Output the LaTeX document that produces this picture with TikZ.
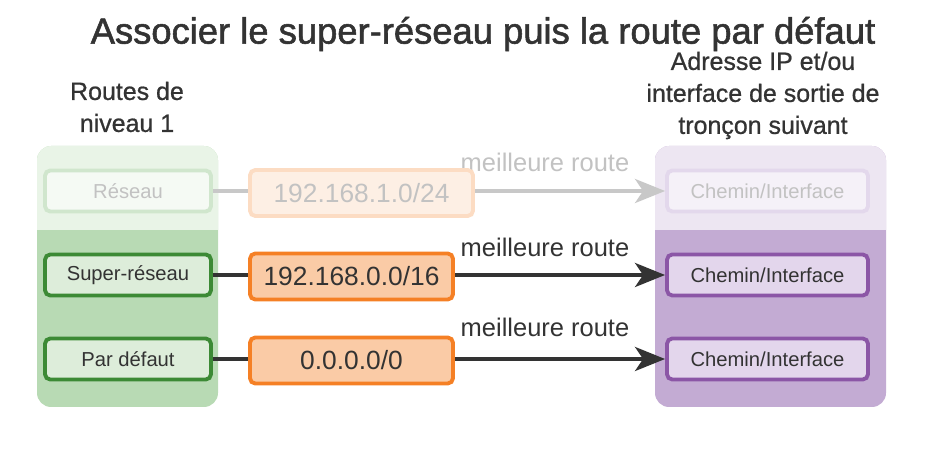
\documentclass[tikz,border=0pt]{standalone}
\usepackage{fontspec}
\setmainfont{Liberation Sans}
\newfontfamily\titlefont[FakeBold=1.5]{Liberation Sans}
\newfontfamily\headfont[FakeBold=0.8]{Liberation Sans}
\usetikzlibrary{arrows.meta}

\definecolor{txtdark}{HTML}{333333}
\definecolor{txtfade}{HTML}{C2C2C2}
\definecolor{grnline}{HTML}{3C8A35}
\definecolor{grnfill}{HTML}{DDEDDA}
\definecolor{grnpanel}{HTML}{B8DAB4}
\definecolor{grnpaneltop}{HTML}{E9F4E7}
\definecolor{grnfadefill}{HTML}{F5FAF4}
\definecolor{grnfadeline}{HTML}{D0E6CD}
\definecolor{orgline}{HTML}{F58025}
\definecolor{orgfill}{HTML}{FACBA6}
\definecolor{orgfadefill}{HTML}{FDEFE4}
\definecolor{orgfadeline}{HTML}{FCDCC3}
\definecolor{purline}{HTML}{8B56A6}
\definecolor{purfill}{HTML}{E3D6EC}
\definecolor{purpanel}{HTML}{C3ABD3}
\definecolor{purpaneltop}{HTML}{EDE6F2}
\definecolor{purfadefill}{HTML}{F5F1F8}
\definecolor{purfadeline}{HTML}{E3D8EC}
\definecolor{arrfade}{HTML}{C8C8C8}

\tikzstyle{entry}=[rectangle, line width=2.2pt, rounded corners=3pt,
                   inner sep=0pt, text=txtdark]
\tikzstyle{routebox}=[entry, minimum width=3.32cm, minimum height=0.82cm,
                      font=\fontsize{11.5}{13}\selectfont]
\tikzstyle{prefixbox}=[entry, minimum width=4.06cm, minimum height=0.92cm,
                       font=\fontsize{15}{17}\selectfont]
\tikzstyle{hopbox}=[entry, minimum width=4.02cm, minimum height=0.82cm,
                    font=\fontsize{11.5}{13}\selectfont]
\tikzstyle{heading}=[align=center, text=txtdark,
                     font=\headfont\fontsize{14.2}{18.2}\selectfont]
\tikzstyle{best}=[text=txtdark, font=\fontsize{14.5}{17}\selectfont]
\tikzstyle{link}=[line width=2.2pt, draw=txtdark,
                  -{Stealth[length=0.6cm, width=0.48cm, inset=0.16cm]}]

\begin{document}
\begin{tikzpicture}

  \useasboundingbox (0, 0) rectangle (18.76, 9.18);

  %%%%%%%%%%%%%%%%%%%%%%%%%%%%%%
  % titles
  \node (title) at (9.66, 8.5) [text=txtdark, font=\titlefont\fontsize{20.7}{24}\selectfont]
    {Associer le super-réseau puis la route par défaut};
  \node (head_lvl1) at (2.54, 7.04) [heading] {Routes de\\niveau 1};
  \node (head_hop) at (15.26, 7.27) [heading]
    {Adresse IP et/ou\\interface de sortie de\\tronçon suivant};

  %%%%%%%%%%%%%%%%%%%%%%%%%%%%%%
  % panels
  \fill[grnpanel, rounded corners=8pt] (0.74, 1.04) rectangle (4.36, 6.26);
  \fill[grnpaneltop] (0.74, 4.58) [rounded corners=8pt] -- (0.74, 6.26)
    -- (4.36, 6.26) [sharp corners] -- (4.36, 4.58) -- cycle;
  \fill[purpanel, rounded corners=8pt] (13.1, 1.04) rectangle (17.72, 6.26);
  \fill[purpaneltop] (13.1, 4.58) [rounded corners=8pt] -- (13.1, 6.26)
    -- (17.72, 6.26) [sharp corners] -- (17.72, 4.58) -- cycle;

  %%%%%%%%%%%%%%%%%%%%%%%%%%%%%%
  % nodes
  % level 1 routes
  \node (net) at (2.56, 5.36) [routebox, draw=grnfadeline, fill=grnfadefill,
    text=txtfade] {Réseau};
  \node (supernet) at (2.56, 3.68) [routebox, draw=grnline, fill=grnfill] {Super-réseau};
  \node (default) at (2.56, 2.0) [routebox, draw=grnline, fill=grnfill] {Par défaut};

  % next hop
  \node (hop_net) at (15.35, 5.36) [hopbox, draw=purfadeline, fill=purfadefill,
    text=txtfade] {Chemin/Interface};
  \node (hop_super) at (15.35, 3.68) [hopbox, draw=purline, fill=purfill] {Chemin/Interface};
  \node (hop_default) at (15.35, 2.0) [hopbox, draw=purline, fill=purfill] {Chemin/Interface};

  %%%%%%%%%%%%%%%%%%%%%%%%%%%%%%
  % links
  \draw [link, draw=arrfade, -{Stealth[length=0.6cm, width=0.48cm, inset=0.16cm, fill=arrfade]}]
    (net) -- (hop_net);
  \draw [link] (supernet) -- (hop_super);
  \draw [link] (default) -- (hop_default);

  \node (best_net) at (10.9, 5.94) [best, text=txtfade] {meilleure route};
  \node (best_super) at (10.9, 4.24) [best] {meilleure route};
  \node (best_default) at (10.9, 2.64) [best] {meilleure route};

  %%%%%%%%%%%%%%%%%%%%%%%%%%%%%%
  % prefixes
  \node (pfx_net) at (7.23, 5.32) [prefixbox, minimum width=4.46cm,
    draw=orgfadeline, fill=orgfadefill, text=txtfade] {192.168.1.0/24};
  \node (pfx_super) at (7.03, 3.65) [prefixbox, draw=orgline, fill=orgfill] {192.168.0.0/16};
  \node (pfx_default) at (7.03, 1.97) [prefixbox, draw=orgline, fill=orgfill] {0.0.0.0/0};

\end{tikzpicture}
\end{document}
